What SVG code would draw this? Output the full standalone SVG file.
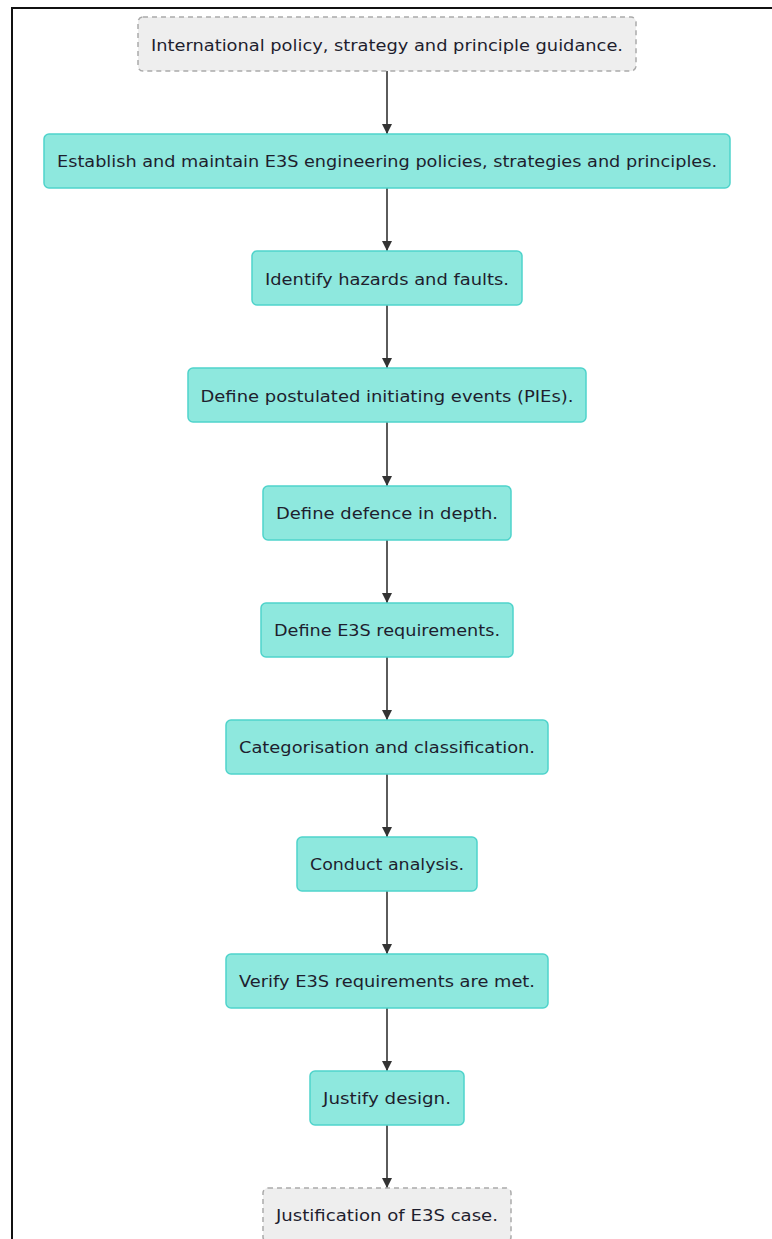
<svg xmlns="http://www.w3.org/2000/svg" width="772" height="1239" viewBox="0 0 772 1239">
<defs>
<style>
.n rect{fill:#8ee8de;stroke:#4fd3cb;stroke-width:1.5}
.t rect{fill:#eeeeee;stroke:#aaaaaa;stroke-width:1.5;stroke-dasharray:5 4}
text{font-family:"DejaVu Sans","Liberation Sans",sans-serif;font-size:16px;fill:#1e1e2e;text-anchor:middle;dominant-baseline:central}
.e{stroke:#333;stroke-width:1.6;fill:none}
</style>
<marker id="ah" viewBox="0 0 10 10" refX="10" refY="5" markerWidth="10" markerHeight="10" markerUnits="userSpaceOnUse" orient="auto">
<path d="M0,0 L10,5 L0,10 z" fill="#333"/>
</marker>
</defs>
<rect width="772" height="1239" fill="#fff"/>
<path d="M12,1239 V8 H772" fill="none" stroke="#111" stroke-width="2"/>
<g id="edges">
<path class="e" d="M387,71 V134" marker-end="url(#ah)"/>
<path class="e" d="M387,188 V251" marker-end="url(#ah)"/>
<path class="e" d="M387,305 V368" marker-end="url(#ah)"/>
<path class="e" d="M387,422 V486" marker-end="url(#ah)"/>
<path class="e" d="M387,540 V603" marker-end="url(#ah)"/>
<path class="e" d="M387,657 V720" marker-end="url(#ah)"/>
<path class="e" d="M387,774 V837" marker-end="url(#ah)"/>
<path class="e" d="M387,891 V954" marker-end="url(#ah)"/>
<path class="e" d="M387,1008 V1071" marker-end="url(#ah)"/>
<path class="e" d="M387,1125 V1188" marker-end="url(#ah)"/>
</g>
<g id="n1" class="t"><rect x="138" y="17" width="498" height="54" rx="5"/><text x="387" y="45" textLength="472" lengthAdjust="spacingAndGlyphs">International policy, strategy and principle guidance.</text></g>
<g id="n2" class="n"><rect x="44" y="134" width="686" height="54" rx="5"/><text x="387" y="161" textLength="660" lengthAdjust="spacingAndGlyphs">Establish and maintain E3S engineering policies, strategies and principles.</text></g>
<g id="n3" class="n"><rect x="252" y="251" width="270" height="54" rx="5"/><text x="387" y="279" textLength="244" lengthAdjust="spacingAndGlyphs">Identify hazards and faults.</text></g>
<g id="n4" class="n"><rect x="188" y="368" width="398" height="54" rx="5"/><text x="387" y="396" textLength="373" lengthAdjust="spacingAndGlyphs">Define postulated initiating events (PIEs).</text></g>
<g id="n5" class="n"><rect x="263" y="486" width="248" height="54" rx="5"/><text x="387" y="513" textLength="222" lengthAdjust="spacingAndGlyphs">Define defence in depth.</text></g>
<g id="n6" class="n"><rect x="261" y="603" width="252" height="54" rx="5"/><text x="387" y="630" textLength="226" lengthAdjust="spacingAndGlyphs">Define E3S requirements.</text></g>
<g id="n7" class="n"><rect x="226" y="720" width="322" height="54" rx="5"/><text x="387" y="747" textLength="296" lengthAdjust="spacingAndGlyphs">Categorisation and classification.</text></g>
<g id="n8" class="n"><rect x="297" y="837" width="180" height="54" rx="5"/><text x="387" y="864" textLength="154" lengthAdjust="spacingAndGlyphs">Conduct analysis.</text></g>
<g id="n9" class="n"><rect x="226" y="954" width="322" height="54" rx="5"/><text x="387" y="981" textLength="296" lengthAdjust="spacingAndGlyphs">Verify E3S requirements are met.</text></g>
<g id="n10" class="n"><rect x="310" y="1071" width="154" height="54" rx="5"/><text x="387" y="1098" textLength="128" lengthAdjust="spacingAndGlyphs">Justify design.</text></g>
<g id="n11" class="t"><rect x="263" y="1188" width="248" height="54" rx="5"/><text x="387" y="1215" textLength="222" lengthAdjust="spacingAndGlyphs">Justification of E3S case.</text></g>
</svg>
